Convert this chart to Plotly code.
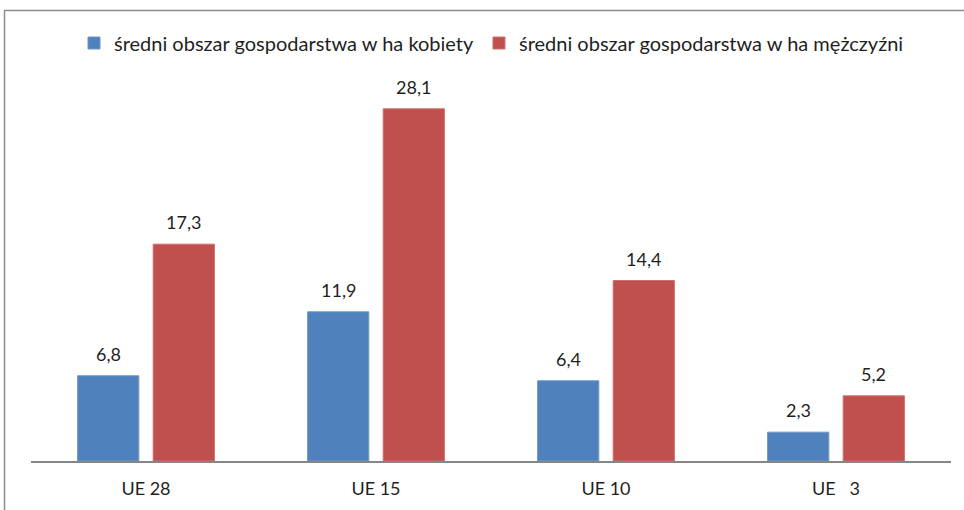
import plotly.graph_objects as go

categories = ["UE 28", "UE 15", "UE 10", "UE\u00a0\u00a0\u00a03"]
kobiety = [6.8, 11.9, 6.4, 2.3]
mezczyzni = [17.3, 28.1, 14.4, 5.2]
series_names = ["średni obszar gospodarstwa w ha kobiety",
                "średni obszar gospodarstwa w ha mężczyźni"]
colors = ["#4F81BD", "#C0504D"]
edge_colors = ["#6f96c8", "#cc706d"]

W, H = 964, 510
L, R, T, B = 31, 13, 85, 49
plot_h = H - T - B
plot_w = W - L - R
BARGAP, BARGROUPGAP = 0.343, 0.19

def fmt(v):
    return f"{v:.1f}".replace(".", ",")

FAM = "Lato, 'Open Sans', sans-serif"
TXT = "#1f1f1f"
label_font = dict(family=FAM, size=18, color=TXT)
legend_font = dict(family=FAM, size=20, color=TXT)

fig = go.Figure()
for name, vals, col, ec in zip(series_names, [kobiety, mezczyzni], colors, edge_colors):
    fig.add_trace(go.Bar(x=categories, y=vals, name=name,
                         marker=dict(color=col, line=dict(color=ec, width=1))))

# data labels above bars (offset derived from the grouped-bar geometry)
cat_w = plot_w / len(categories)
slot = cat_w * (1 - BARGAP) / 2
for k, vals in enumerate([kobiety, mezczyzni]):
    shift = (k - 0.5) * slot
    for c, v in zip(categories, vals):
        fig.add_annotation(x=c, y=v, xref="x", yref="y", text=fmt(v),
                           showarrow=False, xshift=shift, yshift=9,
                           yanchor="bottom", font=label_font)

def px_to_paper_y(py):
    return (H - B - py) / plot_h

def px_to_paper_x(px):
    return (px - L) / plot_w

fig.add_shape(type="rect", xref="paper", yref="paper",
              x0=px_to_paper_x(4.5), x1=px_to_paper_x(1000),
              y0=px_to_paper_y(560), y1=px_to_paper_y(10.5),
              line=dict(color="#8c8c8c", width=1.5), fillcolor="rgba(0,0,0,0)", layer="below")

fig.update_layout(
    width=W, height=H,
    margin=dict(l=L, r=R, t=T, b=B),
    paper_bgcolor="white", plot_bgcolor="white",
    barmode="group", bargap=BARGAP, bargroupgap=BARGROUPGAP,
    font=label_font,
    showlegend=True,
    legend=dict(orientation="h", x=px_to_paper_x(74), xanchor="left",
                y=px_to_paper_y(43), yanchor="middle",
                font=legend_font, itemwidth=30, bgcolor="rgba(0,0,0,0)"),
    xaxis=dict(showline=True, linecolor="#868686", linewidth=2, ticks="",
               showgrid=False, tickfont=label_font, zeroline=False,
               ticklabelstandoff=10),
    yaxis=dict(range=[0, 30], visible=False, showgrid=False, zeroline=False),
)

fig.write_html("out.html", config={"displayModeBar": False},
               post_script="document.body.style.margin='0';document.body.style.overflow='hidden';")
